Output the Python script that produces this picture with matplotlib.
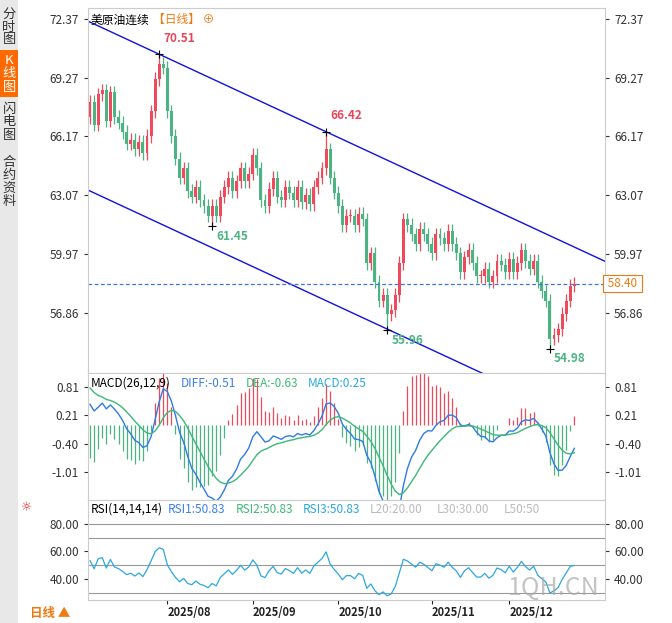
import matplotlib
matplotlib.use("Agg")
import matplotlib.pyplot as plt
import numpy as np
from matplotlib.patches import Rectangle

plt.rcParams['font.family'] = ['Noto Sans CJK SC', 'DejaVu Sans']

closes = [68.0, 66.8, 68.4, 68.6, 67.0, 68.5, 67.2, 66.9, 66.4, 65.8,
          66.0, 65.5, 65.9, 65.3, 66.2, 67.5, 69.2, 70.0, 69.8, 67.5,
          66.2, 65.0, 64.0, 64.5, 63.3, 63.0, 63.5, 62.8, 62.5, 62.0,
          62.5, 62.0, 63.0, 63.5, 64.0, 63.3, 63.8, 64.5, 63.8, 64.2,
          65.2, 64.5, 62.8, 62.5, 63.4, 64.0, 63.0, 62.8, 63.5, 63.2,
          62.8, 63.5, 62.7, 63.1, 62.6, 63.5, 64.0, 64.5, 65.5, 64.0,
          63.2, 62.5, 61.5, 62.0, 62.0, 61.5, 62.1, 61.8, 59.5, 60.0,
          58.5, 57.5, 57.8, 56.8, 57.0, 57.8, 59.5, 61.8, 61.5, 61.0,
          60.5, 61.3, 61.0, 60.5, 60.0, 61.0, 60.8, 60.5, 61.2, 60.5,
          60.0, 59.0, 59.8, 60.2, 59.5, 58.8, 58.8, 59.2, 58.5, 58.8,
          59.6, 59.4, 59.0, 59.7, 59.0, 59.5, 60.2, 59.6, 59.2, 59.6,
          58.5, 58.0, 57.5, 55.5, 55.7, 56.0, 56.8, 57.5, 58.3, 58.4]
first_open = 67.2
wick_up = 0.35
wick_dn = 0.35
extremes = {17: ('h', 70.51), 58: ('h', 66.42), 30: ('l', 61.45), 73: ('l', 55.96), 113: ('l', 54.98)}
price_ticks = [72.37, 69.27, 66.17, 63.07, 59.97, 56.86]
last_price = 58.40
month_idx = [19, 40, 61, 84, 103]
month_labels = ['2025/08', '2025/09', '2025/10', '2025/11', '2025/12']
channel_upper = [(17, 70.51), (58, 66.42)]
channel_lower_anchor = (73.5, 55.96)
macd_legend = ['DIFF:-0.51', 'DEA:-0.63', 'MACD:0.25']
rsi_legend = ['RSI1:50.83', 'RSI2:50.83', 'RSI3:50.83', 'L20:20.00', 'L30:30.00', 'L50:50']

c = np.array(closes)
o = np.concatenate([[first_open], c[:-1]])
h = np.maximum(o, c) + wick_up
l = np.minimum(o, c) - wick_dn
for k, (t, v) in extremes.items():
    if t == 'h': h[k] = v
    else: l[k] = v
n = len(c)
x = np.arange(n)

def ema(a, span, seed=None):
    al = 2 / (span + 1); out = np.zeros_like(a); out[0] = a[0] if seed is None else seed
    for i in range(1, len(a)): out[i] = al * a[i] + (1 - al) * out[i - 1]
    return out
diff = 1.5 * (ema(c, 12) - ema(c, 26)) + 0.45
dea = ema(diff, 9, seed=0.8)
hist = 2 * (diff - dea)
def rsi(a, p=14):
    d = np.diff(a, prepend=a[0]); g = np.clip(d, 0, None); ls = np.clip(-d, 0, None)
    ag = ema(g, 2 * p - 1, seed=0.4); al_ = ema(ls, 2 * p - 1, seed=0.35)
    return 100 * ag / (ag + al_ + 1e-9)
r = rsi(c)

W, H = 672, 623
fig = plt.figure(figsize=(W / 100, H / 100), dpi=100)
def axr(x0, y0, x1, y1):
    return fig.add_axes([x0 / W, 1 - y1 / H, (x1 - x0) / W, (y1 - y0) / H])
xl = (-0.5, (605 - 90) / 4.07)
UP, DN = '#f0495b', '#4cb382'
GRID = '#cccccc'

# price
ax = axr(88, 8, 605, 373)
ax.set_xlim(*xl); ax.set_ylim(53.69, 72.95)
for i in range(n):
    col = UP if c[i] >= o[i] else DN
    ax.vlines(x[i], l[i], h[i], color=col, lw=0.9)
    ax.add_patch(Rectangle((x[i] - 0.36, min(o[i], c[i])), 0.72, max(abs(c[i] - o[i]), 0.05), color=col, lw=0))
(ax0, p0), (ax1, p1) = channel_upper
slope = (p1 - p0) / (ax1 - ax0)
xs = np.array([xl[0], xl[1]])
ax.plot(xs, p0 + slope * (xs - ax0), color='#1010e0', lw=1)
la, lp = channel_lower_anchor
xs2 = np.array([xl[0], 97])
ax.plot(xs2, lp + slope * (xs2 - la), color='#1010e0', lw=1)
ax.axhline(last_price, color='#3a78d8', lw=0.9, ls=(0, (3, 2)))
for k, (t, v) in extremes.items():
    ax.plot(k, v, marker='+', color='k', ms=6, mew=0.8)
    if t == 'h':
        ax.text(k + 1, v + 0.5, f'{v:.2f}', color='#e8455a', fontsize=8.5, fontweight='bold', va='bottom')
    else:
        ax.text(k + 1, v - 0.2, f'{v:.2f}', color='#4cb382', fontsize=8.5, fontweight='bold', va='top')
ax.set_yticks(price_ticks)
ax.tick_params(axis='y', labelsize=8.5, colors='#333', length=3, labelright=True, right=True)
ax.set_xticks([])
for s in ax.spines.values(): s.set_color(GRID)
ax.text(0.005, 0.985, '美原油连续', transform=ax.transAxes, fontsize=8.5, va='top')
ax.text(0.125, 0.985, '【日线】 ⊕', transform=ax.transAxes, fontsize=8.5, va='top', color='#f07a10')
ax.text(1.0, last_price, ' 58.40 ', transform=ax.get_yaxis_transform(), fontsize=8.5, color='#f07a10', va='center',
        bbox=dict(boxstyle='square,pad=0.15', fc='white', ec='#f07a10', lw=0.8))

# MACD
am = axr(88, 373, 605, 500)
am.set_xlim(*xl); am.set_ylim(-1.6, 1.12)
am.vlines(x, 0, hist, colors=[UP if v >= 0 else DN for v in hist], lw=0.9)
am.plot(x, diff, color='#2f7be6', lw=1)
am.plot(x, dea, color='#3cb878', lw=1)
am.set_yticks([0.81, 0.21, -0.40, -1.01]); am.set_yticklabels(['0.81', '0.21', '-0.40', '-1.01'])
am.tick_params(axis='y', labelsize=8.5, colors='#333', length=3, labelright=True, right=True)
am.set_xticks([])
for s in am.spines.values(): s.set_color(GRID)
am.text(0.005, 0.97, 'MACD(26,12,9)', transform=am.transAxes, fontsize=8.5, va='top')
for xp, t, col in zip([0.18, 0.305, 0.425], macd_legend, ['#3a7ef0', '#3cb878', '#2aa8e0']):
    am.text(xp, 0.97, t, transform=am.transAxes, fontsize=8.5, va='top', color=col)

# RSI
ar = axr(88, 500, 605, 600)
ar.set_xlim(*xl); ar.set_ylim(25, 97)
for lv in [80, 70, 50, 30]:
    ar.axhline(lv, color='#999', lw=0.8)
ar.plot(x, r, color='#2aa8e0', lw=0.9)
ar.set_yticks([80, 60, 40]); ar.set_yticklabels(['80.00', '60.00', '40.00'])
ar.tick_params(axis='y', labelsize=8.5, colors='#333', length=3, labelright=True, right=True)
ar.set_xticks(month_idx); ar.set_xticklabels(month_labels, ha='left', fontweight='bold')
ar.tick_params(axis='x', labelsize=8, length=3, pad=1, colors='#222')
for s in ar.spines.values(): s.set_color(GRID)
ar.text(0.005, 0.97, 'RSI(14,14,14)', transform=ar.transAxes, fontsize=8.5, va='top')
for xp, t, col in zip([0.155, 0.285, 0.415, 0.545, 0.675, 0.805], rsi_legend,
                      ['#3a7ef0', '#3cb878', '#2aa8e0', '#bbb', '#bbb', '#bbb']):
    ar.text(xp, 0.97, t, transform=ar.transAxes, fontsize=8.5, va='top', color=col)
ar.text(0.9, 0.05, '1QH.CN', transform=ar.transAxes, fontsize=18, color='#aaaaaa', alpha=0.7, ha='center')

# sidebar
fig.patches.append(Rectangle((0, 0), 18 / W, 1, transform=fig.transFigure, fc='#e8e8e8', ec='none'))
fig.patches.append(Rectangle((0, 1 - 97 / H), 18 / W, 47 / H, transform=fig.transFigure, fc='#ff6a00', ec='none'))
for y0, t, col in [(27, '分\n时\n图', '#333'), (74, 'K\n线\n图', 'white'), (122, '闪\n电\n图', '#333'), (182, '合\n约\n资\n料', '#333')]:
    fig.text(9 / W, 1 - y0 / H, t, ha='center', va='center', fontsize=9.5, color=col, linespacing=1.0)
fig.text(30 / W, 1 - 614 / H, '日线 ▲', fontsize=9, color='#f07a10', va='center', fontweight='bold')
fig.text(27 / W, 1 - 508 / H, '☼', fontsize=9, color='#e02020', ha='center', va='center', family='DejaVu Sans')

fig.savefig('out.png', dpi=100)
